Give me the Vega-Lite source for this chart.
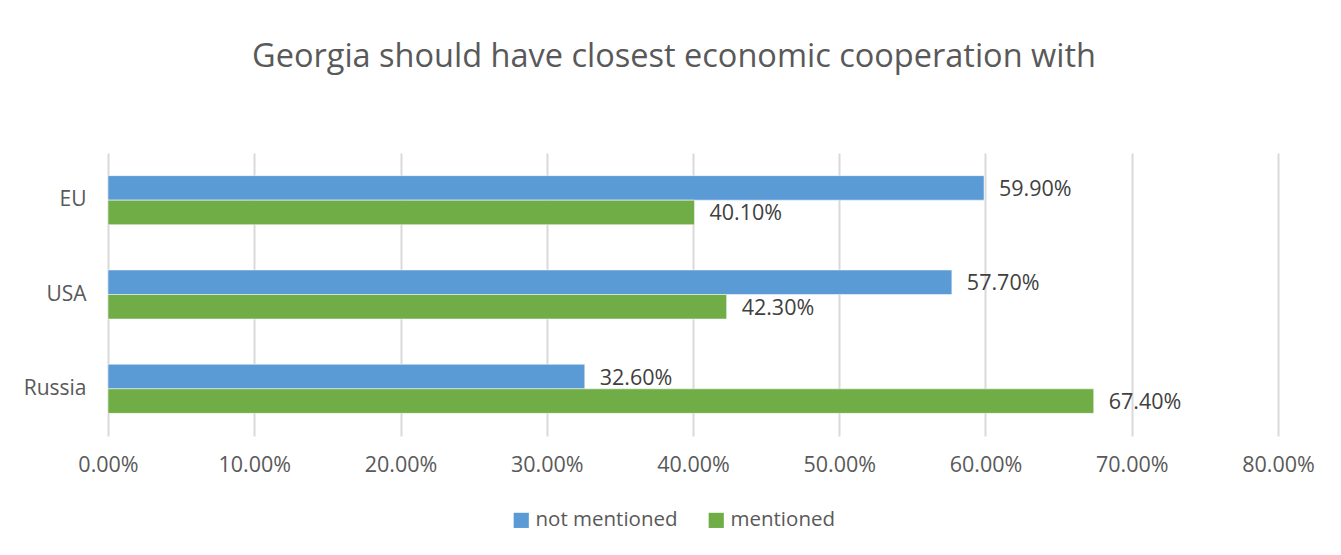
{
  "$schema": "https://vega.github.io/schema/vega-lite/v6.json",
  "width": 1170,
  "height": 283,
  "autosize": {"type": "none"},
  "padding": {"left": 108, "top": 153, "right": 63, "bottom": 119},
  "background": "white",
  "config": {"view": {"stroke": null}, "font": "Open Sans"},
  "title": {
    "text": "Georgia should have closest economic cooperation with",
    "fontSize": 32.5,
    "font": "Open Sans",
    "fontWeight": "normal",
    "color": "#595959",
    "anchor": "middle",
    "dx": -19,
    "offset": 80
  },
  "data": {
    "values": [
      {"country": "EU", "series": "not mentioned", "value": 0.599},
      {"country": "EU", "series": "mentioned", "value": 0.401},
      {"country": "USA", "series": "not mentioned", "value": 0.577},
      {"country": "USA", "series": "mentioned", "value": 0.423},
      {"country": "Russia", "series": "not mentioned", "value": 0.326},
      {"country": "Russia", "series": "mentioned", "value": 0.674}
    ]
  },
  "encoding": {
    "y": {
      "field": "country",
      "type": "nominal",
      "sort": ["EU", "USA", "Russia"],
      "scale": {"paddingInner": 0.48, "paddingOuter": 0.24},
      "axis": {
        "title": null,
        "domain": false,
        "ticks": false,
        "labelFontSize": 21,
        "labelColor": "#595959",
        "labelPadding": 22,
        "labelFont": "Open Sans"
      }
    },
    "yOffset": {
      "field": "series",
      "type": "nominal",
      "sort": ["not mentioned", "mentioned"],
      "scale": {"paddingInner": 0, "paddingOuter": 0}
    },
    "x": {
      "field": "value",
      "type": "quantitative",
      "scale": {"domain": [0, 0.8], "nice": false},
      "axis": {
        "title": null,
        "format": ".2%",
        "values": [0, 0.1, 0.2, 0.3, 0.4, 0.5, 0.6, 0.7, 0.8],
        "domain": false,
        "ticks": false,
        "grid": true,
        "gridColor": "#D9D9D9",
        "gridWidth": 2,
        "labelFlush": false,
        "labelOverlap": false,
        "labelFontSize": 21.5,
        "labelColor": "#595959",
        "labelPadding": 18,
        "labelFont": "Open Sans"
      }
    }
  },
  "layer": [
    {
      "mark": {"type": "bar", "stroke": "white", "strokeWidth": 0.5},
      "encoding": {
        "color": {
          "field": "series",
          "type": "nominal",
          "sort": ["not mentioned", "mentioned"],
          "scale": {"domain": ["not mentioned", "mentioned"], "range": ["#5B9BD5", "#70AD47"]},
          "legend": {
            "title": null,
            "orient": "none",
            "direction": "horizontal",
            "legendX": 403,
            "legendY": 357,
            "symbolType": "square",
            "symbolSize": 230,
            "symbolStrokeWidth": 0,
            "labelFontSize": 20.5,
            "labelColor": "#595959",
            "labelFont": "Open Sans",
            "columnPadding": 28,
            "labelOffset": 4
          }
        }
      }
    },
    {
      "mark": {"type": "text", "align": "left", "baseline": "middle", "dx": 15, "dy": 2, "fontSize": 21.5, "color": "#404040", "font": "Open Sans"},
      "encoding": {
        "text": {"field": "value", "type": "quantitative", "format": ".2%"}
      }
    }
  ]
}
